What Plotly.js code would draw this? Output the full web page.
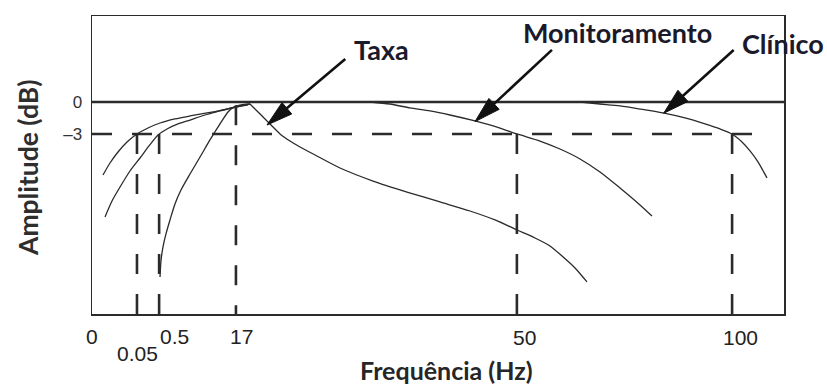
<!DOCTYPE html>
<html><head><meta charset="utf-8">
<script src="https://cdn.plot.ly/plotly-3.0.1.min.js"></script>
<style>html,body{margin:0;padding:0;background:#fff}#chart{width:827px;height:385px}</style>
</head><body><div id="chart"></div>
<script>
// ---- data (schematic position on x, dB on y) ----
const tickPos    = [0, 6.5, 9.7, 20.8, 61.4, 92.5];
const tickLabels = ['0', '0.05', '0.5', '17', '50', '100'];

const levelsDb     = [0, -3];
const levelLabels  = ['0', '–3'];

const cutoffPos = [6.5, 9.7, 20.8, 61.4, 92.5];
const cutoffTop = [-3, -3, -0.3, -3, -3];

// high-pass 0.05 Hz
const hp005X = [1.59, 2.60, 3.76, 5.06, 6.50, 8.09, 9.83, 11.99, 14.16, 16.62, 18.93, 20.95, 22.54];
const hp005Y = [-6.84, -5.72, -4.69, -3.75, -3.0, -2.44, -1.97, -1.59, -1.31, -1.03, -0.75, -0.47, -0.28];
// high-pass 0.5 Hz
const hp05X = [1.88, 2.89, 4.05, 5.49, 6.94, 8.24, 9.54, 10.84, 12.43, 14.16, 16.33, 18.50, 20.66, 22.83];
const hp05Y = [-10.78, -9.28, -7.97, -6.47, -5.25, -4.12, -3.09, -2.53, -2.06, -1.69, -1.22, -0.84, -0.47, -0.19];
// Taxa (rate) band: rising branch
const taxaUpX = [9.83, 9.97, 10.26, 10.69, 11.27, 11.99, 12.86, 14.16, 15.61, 17.05, 18.50, 19.65, 20.52, 21.53, 22.83];
const taxaUpY = [-16.41, -14.91, -13.59, -12.37, -11.06, -9.56, -8.25, -6.75, -5.16, -3.56, -2.06, -0.94, -0.47, -0.28, -0.19];
// Taxa falling branch
const taxaDnX = [22.83, 23.70, 24.86, 26.01, 27.17, 28.61, 30.06, 32.23, 35.84, 40.61, 45.52, 50.29, 54.62, 58.24, 61.42, 64.02, 66.18, 67.92, 69.80, 71.53];
const taxaDnY = [-0.19, -0.75, -1.50, -2.25, -3.0, -3.66, -4.22, -4.97, -6.19, -7.41, -8.44, -9.37, -10.22, -11.06, -12.0, -12.75, -13.50, -14.44, -15.56, -16.87];
// Monitoramento low-pass (50 Hz)
const monX = [40.17, 43.06, 45.95, 48.84, 51.73, 55.35, 58.96, 61.42, 64.74, 67.63, 70.52, 73.41, 76.30, 79.19, 80.92];
const monY = [0, -0.19, -0.56, -0.84, -1.22, -1.78, -2.44, -3.0, -3.66, -4.41, -5.34, -6.56, -8.06, -9.65, -10.69];
// Clínico low-pass (100 Hz)
const cliX = [70.52, 73.41, 76.30, 79.19, 82.51, 85.69, 88.58, 90.75, 92.49, 93.93, 95.09, 96.24, 97.54];
const cliY = [0, -0.19, -0.37, -0.66, -1.03, -1.50, -2.06, -2.53, -3.0, -3.75, -4.59, -5.62, -7.12];

const arrowNames = ['Taxa', 'Monitoramento', 'Clínico'];
const arrowHeadX = [25.29, 55.35, 82.61];
const arrowHeadY = [-2.16, -1.84, -1.06];
const arrowTailX = [36.60, 66.47, 92.73];
const arrowTailY = [4.03, 4.88, 4.88];
const labelX = [41.9, 76.0, 99.86];
const labelY = [4.92, 6.47, 5.45];

// ---- layout geometry ----
const WIDTH = 827, HEIGHT = 385;
const L = 92, R = 43, T = 16, B = 71;
const W = WIDTH - L - R, H = HEIGHT - T - B;
const xRange = [0, 100], yRange = [-19.875, 8.06];
const toPx = x => L + (x - xRange[0]) / (xRange[1] - xRange[0]) * W;
const toPy = y => T + (yRange[1] - y) / (yRange[1] - yRange[0]) * H;
const fromPx = p => xRange[0] + (p - L) / W * (xRange[1] - xRange[0]);
const fromPy = p => yRange[1] - (p - T) / H * (yRange[1] - yRange[0]);
const paperX = p => (p - L) / W;
const paperY = p => (T + H - p) / H;

const ink = '#2b2b2b';
const curveStyle = {color: ink, width: 1.3, shape: 'spline', smoothing: 0.7};
const dashStyle = {color: ink, width: 2.6, dash: '20px,20px'};

const traces = [];
// 0 dB reference line
traces.push({x: [xRange[0], xRange[1]], y: [levelsDb[0], levelsDb[0]], mode: 'lines',
  line: {color: ink, width: 2.3}, hoverinfo: 'skip'});
// -3 dB dashed
traces.push({x: [xRange[0], 97.25], y: [levelsDb[1], levelsDb[1]], mode: 'lines',
  line: dashStyle, hoverinfo: 'skip'});
// cut-off verticals
cutoffPos.forEach((p, i) => {
  traces.push({x: [p, p], y: [cutoffTop[i], yRange[0]], mode: 'lines', line: dashStyle, hoverinfo: 'skip'});
});
[[hp005X, hp005Y], [hp05X, hp05Y], [taxaUpX, taxaUpY], [taxaDnX, taxaDnY], [monX, monY], [cliX, cliY]]
  .forEach(([xs, ys]) => traces.push({x: xs, y: ys, mode: 'lines', line: curveStyle, hoverinfo: 'skip'}));

// arrows as shapes
const shapes = [];
const headLen = 26, headHalf = 7.5;
arrowHeadX.forEach((hx, i) => {
  const hpx = toPx(hx), hpy = toPy(arrowHeadY[i]);
  const tpx = toPx(arrowTailX[i]), tpy = toPy(arrowTailY[i]);
  let ux = hpx - tpx, uy = hpy - tpy; const len = Math.hypot(ux, uy); ux /= len; uy /= len;
  const bx = hpx - ux * headLen, by = hpy - uy * headLen;
  const nx = -uy, ny = ux;
  const p1 = [bx + nx * headHalf, by + ny * headHalf], p2 = [bx - nx * headHalf, by - ny * headHalf];
  shapes.push({type: 'line', xref: 'x', yref: 'y', x0: arrowTailX[i], y0: arrowTailY[i],
    x1: fromPx(bx + ux * 4), y1: fromPy(by + uy * 4), line: {color: '#111', width: 2.6}});
  shapes.push({type: 'path', xref: 'x', yref: 'y',
    path: `M${hx},${arrowHeadY[i]} L${fromPx(p1[0])},${fromPy(p1[1])} L${fromPx(p2[0])},${fromPy(p2[1])} Z`,
    fillcolor: '#111', line: {color: '#111', width: 1}});
});

const annotations = [];
const labelShift = [0, 0.5, 15, 6, 8, 8];
const labelDrop  = [336, 353, 336, 336, 337, 337];
tickLabels.forEach((t, i) => {
  annotations.push({text: t, xref: 'x', yref: 'paper', x: tickPos[i], xshift: labelShift[i],
    y: paperY(labelDrop[i]), showarrow: false, xanchor: 'center', yanchor: 'middle',
    font: {family: 'Liberation Sans, Arial, sans-serif', size: 21, color: '#222'}});
});
arrowNames.forEach((t, i) => {
  annotations.push({text: t, xref: 'x', yref: 'y', x: labelX[i], y: labelY[i], showarrow: false,
    xanchor: 'center', yanchor: 'middle',
    font: {family: 'Lato, sans-serif', size: 27, color: '#1a1a2a', weight: 700}});
});
annotations.push({text: 'Frequência (Hz)', xref: 'paper', yref: 'paper', x: paperX(446), y: paperY(370),
  showarrow: false, xanchor: 'center', yanchor: 'middle',
  font: {family: 'Lato, sans-serif', size: 25, color: '#262626', weight: 700}});
annotations.push({text: 'Amplitude (dB)', xref: 'paper', yref: 'paper', x: paperX(28), y: paperY(168),
  showarrow: false, textangle: -90, xanchor: 'center', yanchor: 'middle',
  font: {family: 'Lato, sans-serif', size: 26.5, color: '#2e2e2e', weight: 700}});

const layout = {
  width: WIDTH, height: HEIGHT,
  margin: {l: L, r: R, t: T, b: B, pad: 0},
  paper_bgcolor: '#fff', plot_bgcolor: '#fff',
  showlegend: false,
  xaxis: {range: xRange, showgrid: false, zeroline: false, showticklabels: false, ticks: '',
    showline: true, mirror: true, linecolor: ink, linewidth: 1.5, fixedrange: true},
  yaxis: {range: yRange, showgrid: false, zeroline: false, tickvals: levelsDb, ticktext: levelLabels,
    ticks: '', ticklabelstandoff: 5,
    tickfont: {family: 'Liberation Sans, Arial, sans-serif', size: 17, color: '#333'},
    showline: true, mirror: true, linecolor: ink, linewidth: 1.5, fixedrange: true},
  shapes, annotations
};
Plotly.newPlot('chart', traces, layout, {displayModeBar: false, staticPlot: true});
</script></body></html>
